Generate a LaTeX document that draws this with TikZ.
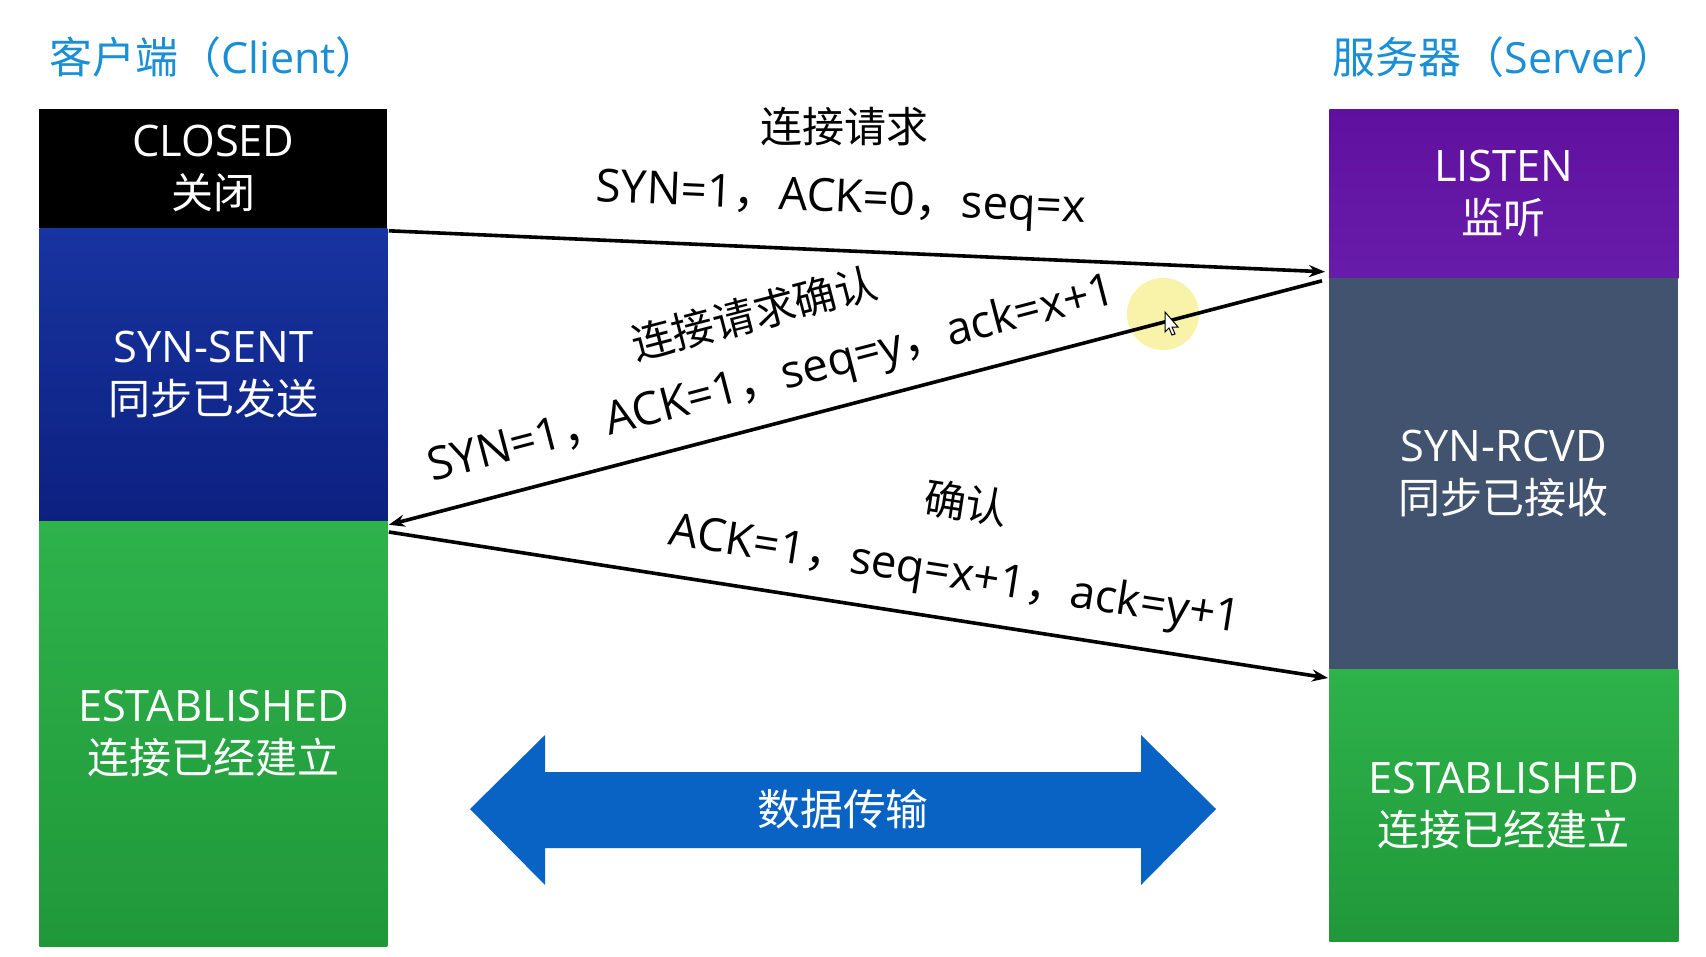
\documentclass[tikz,border=0pt]{standalone}
\usepackage{fontspec}
\setmainfont{Open Sans}
\newfontfamily\cjk{Noto Sans CJK SC}
\usetikzlibrary{arrows.meta,calc}
\newcommand\zc{{\cjk ，}}
\definecolor{titleblue}{RGB}{26,143,214}
\definecolor{arrowblue}{RGB}{8,99,196}
\definecolor{hilite}{RGB}{246,240,140}
\definecolor{blueA}{RGB}{24,52,160}
\definecolor{blueB}{RGB}{12,32,128}
\definecolor{greenA}{RGB}{46,178,74}
\definecolor{greenB}{RGB}{32,152,58}
\definecolor{purpA}{RGB}{96,16,158}
\definecolor{purpB}{RGB}{104,28,170}
\definecolor{slate}{RGB}{66,83,112}
\newcommand\boxcjk{\cjk\fontsize{21pt}{26pt}\selectfont}
\tikzset{
  stbox/.style={rectangle, anchor=north west, inner sep=0pt, text=white, align=center,
    font=\fontsize{21.7pt}{26pt}\selectfont},
  ttl/.style={anchor=west, text=titleblue, inner sep=0pt, font=\fontsize{21.5pt}{26pt}\selectfont},
  msg/.style={line width=1.8pt, -{Stealth[length=8pt,width=6pt]}},
  lbl/.style={inner sep=0pt, font=\fontsize{22.8pt}{26pt}\selectfont},
  clbl/.style={inner sep=0pt, font=\fontsize{21pt}{26pt}\selectfont\cjk},
}
\begin{document}
\begin{tikzpicture}[x=0.5pt,y=-0.5pt]
\useasboundingbox (0,0) rectangle (1706,957);
\fill[white] (0,0) rectangle (1706,957);
% titles
\node[ttl] (tclient) at (49,57) {{\cjk 客户端（}Client{\cjk ）}};
\node[ttl] (tserver) at (1332,57) {{\cjk 服务器（}Server{\cjk ）}};
% client column
\node[stbox, fill=black, minimum width=174pt, minimum height=59.5pt] (closed) at (39,109)
  {CLOSED\\{\boxcjk 关闭}};
\node[stbox, top color=blueA, bottom color=blueB,
  minimum width=174pt, minimum height=146.5pt] (synsent) at (39,228)
  {SYN-SENT\\{\boxcjk 同步已发送}};
\node[stbox, top color=greenA, bottom color=greenB,
  minimum width=174pt, minimum height=212.5pt] (estc) at (39,521)
  {ESTABLISHED\\{\boxcjk 连接已经建立}};
% server column
\node[stbox, top color=purpA, bottom color=purpB,
  minimum width=174.5pt, minimum height=84.5pt] (listen) at (1329,109)
  {LISTEN\\{\boxcjk 监听}};
\node[stbox, fill=slate, minimum width=174.5pt, minimum height=195.5pt] (synrcvd) at (1329,278)
  {SYN-RCVD\\{\boxcjk 同步已接收}};
\node[stbox, top color=greenA, bottom color=greenB,
  minimum width=174.5pt, minimum height=136pt] (ests) at (1329,669)
  {ESTABLISHED\\{\boxcjk 连接已经建立}};
% cursor highlight
\fill[hilite, opacity=0.75] (1163,314) circle[radius=18pt];
% messages
\draw[msg] ($(closed.south east)+(1,2)$) -- ($(listen.south west)+(-4,-7)$);
\draw[msg] ($(listen.south west)+(-7,2)$) -- ($(synsent.south east)+(1,3)$);
\draw[msg] ($(estc.north east)+(1,11)$) -- ($(ests.north west)+(-1,9)$);
% cursor
\filldraw[fill=white, draw=black, line width=0.5pt] (1165,312) -- (1165,332) -- (1169,328) -- (1172,335) -- (1175,334) -- (1172,327) -- (1178,327) -- cycle;
% labels
\node[clbl] (l1a) at (844,127) {连接请求};
\node[lbl, rotate=-2.5] (l1b) at (841,201) {SYN=1\zc ACK=0\zc seq=x};
\node[clbl, rotate=14.6] (l2a) at (754,313) {连接请求确认};
\node[lbl, rotate=14.6] (l2b) at (772,381) {SYN=1\zc ACK=1\zc seq=y\zc ack=x+1};
\node[clbl, rotate=-8.8] (l3a) at (966,503) {确认};
\node[lbl, rotate=-8.8] (l3b) at (955,577) {ACK=1\zc seq=x+1\zc ack=y+1};
% data transfer double arrow
\fill[arrowblue] (470,809) -- (545,735) -- (545,772) -- (1141,772) -- (1141,735) -- (1216,809)
  -- (1141,885) -- (1141,848) -- (545,848) -- (545,885) -- cycle;
\node[clbl, text=white, font=\fontsize{21.4pt}{26pt}\selectfont\cjk] (data) at (843,809) {数据传输};
\end{tikzpicture}
\end{document}
